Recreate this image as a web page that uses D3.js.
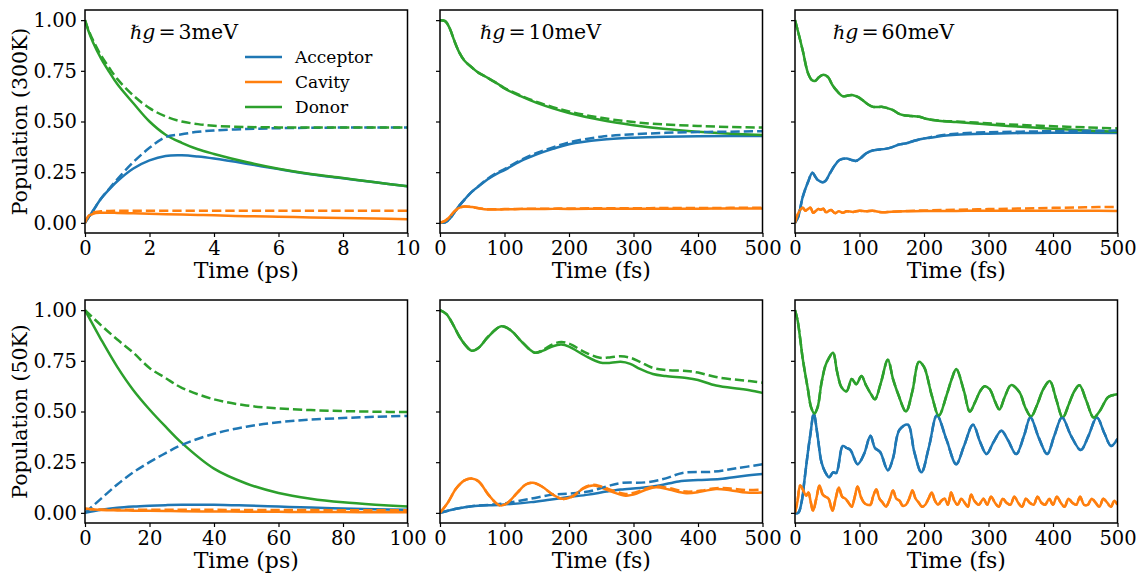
<!DOCTYPE html>
<html><head><meta charset="utf-8">
<script src="https://cdn.jsdelivr.net/npm/d3@7"></script>
<style>
body{margin:0;background:#fff}
svg{display:block}
text{font-family:"DejaVu Serif",serif;fill:#000}
</style>
</head><body>
<svg id="chart" width="1143" height="574"></svg>
<script>
// ---------- shared labels / ticks ----------
const seriesNames = ["Acceptor", "Cavity", "Donor"];
const seriesColors = ["#1f77b4", "#ff7f0e", "#2ca02c"];
const yTicks = [0, 0.25, 0.5, 0.75, 1.0];
const xTicksPs10 = [0, 2, 4, 6, 8, 10];
const xTicksPs100 = [0, 20, 40, 60, 80, 100];
const xTicksFs = [0, 100, 200, 300, 400, 500];
const couplings = ["3meV", "10meV", "60meV"];
const rowLabels = ["Population (300K)", "Population (50K)"];

// ---------- panel 1: 300K, 3 meV (ps) ----------
const p1_t = [0,0.1,0.25,0.5,0.75,1,1.5,2,2.5,3,3.5,4,5,6,7,8,9,10];
const p1_acc   = [0,0.025,0.06,0.12,0.165,0.205,0.268,0.308,0.33,0.333,0.327,0.317,0.292,0.265,0.24,0.22,0.2,0.181];
const p1_acc_d = [0,0.025,0.06,0.12,0.168,0.215,0.3,0.37,0.423,0.437,0.449,0.456,0.463,0.467,0.469,0.47,0.47,0.47];
const p1_cav   = [0,0.03,0.045,0.05,0.05,0.049,0.047,0.045,0.043,0.041,0.039,0.037,0.033,0.03,0.027,0.024,0.021,0.018];
const p1_cav_d = [0,0.032,0.05,0.057,0.059,0.06,0.06,0.06,0.06,0.06,0.06,0.06,0.06,0.06,0.06,0.06,0.06,0.06];
const p1_don   = [1.0,0.95,0.89,0.81,0.745,0.685,0.59,0.5,0.435,0.395,0.363,0.34,0.3,0.267,0.241,0.221,0.2,0.181];
const p1_don_d = [1.0,0.955,0.9,0.825,0.765,0.71,0.628,0.566,0.525,0.5,0.487,0.479,0.473,0.471,0.47,0.47,0.47,0.47];

// ---------- panel 2: 300K, 10 meV (fs) ----------
const p2_t = [0,8,15,22,30,38,50,60,74,90,100,125,150,175,200,250,300,350,400,450,500];
const p2_acc   = [0,0.003,0.02,0.05,0.085,0.115,0.155,0.18,0.215,0.245,0.26,0.305,0.338,0.365,0.388,0.41,0.42,0.425,0.427,0.428,0.428];
const p2_acc_d = [0,0.003,0.02,0.05,0.085,0.115,0.155,0.182,0.218,0.25,0.265,0.31,0.345,0.372,0.397,0.425,0.437,0.444,0.448,0.45,0.452];
const p2_cav   = [0,0.01,0.03,0.055,0.075,0.081,0.078,0.072,0.066,0.066,0.067,0.068,0.068,0.069,0.069,0.07,0.07,0.07,0.07,0.071,0.071];
const p2_cav_d = [0,0.01,0.03,0.055,0.075,0.081,0.078,0.072,0.067,0.067,0.068,0.069,0.07,0.07,0.071,0.072,0.072,0.073,0.073,0.074,0.074];
const p2_don   = [1.0,0.995,0.96,0.9,0.84,0.8,0.765,0.74,0.715,0.685,0.663,0.625,0.592,0.565,0.542,0.507,0.482,0.463,0.45,0.44,0.433];
const p2_don_d = [1.0,0.995,0.96,0.9,0.84,0.8,0.765,0.74,0.715,0.685,0.665,0.628,0.597,0.571,0.549,0.518,0.497,0.485,0.478,0.473,0.47];

// ---------- panel 3: 300K, 60 meV (fs) ----------
const p3_acc_t = [0,5,12,20,27,32,36,43,48,54,62,69,80,88,95,102,110,120,131,140,152,160,172,185,198,210,230,250,300,350,400,500];
const p3_acc   = [0,0.03,0.128,0.2,0.247,0.225,0.21,0.2,0.21,0.244,0.285,0.31,0.318,0.31,0.306,0.32,0.342,0.357,0.362,0.365,0.375,0.385,0.392,0.405,0.415,0.42,0.43,0.435,0.44,0.443,0.445,0.443];
const p3_acc_d = [0,0.03,0.128,0.2,0.247,0.225,0.21,0.2,0.21,0.244,0.285,0.31,0.318,0.31,0.306,0.32,0.342,0.357,0.362,0.365,0.375,0.385,0.392,0.405,0.415,0.423,0.433,0.44,0.447,0.45,0.452,0.455];
const p3_cav_t = [0,4,8,12,16,20,24,28,32,36,40,44,48,52,56,62,68,74,80,90,100,110,120,135,150,175,200,250,300,350,400,450,500];
const p3_cav   = [0,0.04,0.065,0.075,0.06,0.068,0.075,0.05,0.058,0.068,0.065,0.07,0.052,0.058,0.064,0.048,0.057,0.05,0.057,0.054,0.06,0.057,0.06,0.052,0.055,0.057,0.058,0.059,0.06,0.06,0.06,0.06,0.059];
const p3_cav_d = [0,0.04,0.065,0.075,0.06,0.068,0.075,0.05,0.058,0.068,0.065,0.07,0.052,0.058,0.064,0.048,0.057,0.05,0.057,0.054,0.06,0.057,0.06,0.052,0.055,0.059,0.061,0.065,0.068,0.071,0.074,0.077,0.079];
const p3_don_t = [0,5,12,20,26,31,37,43,51,58,64,74,82,90,98,105,113,121,136,144,152,160,167,180,193,205,214,230,250,286,330,390,450,500];
const p3_don   = [1.0,0.94,0.85,0.74,0.705,0.7,0.718,0.73,0.72,0.68,0.655,0.625,0.628,0.63,0.62,0.605,0.585,0.572,0.572,0.565,0.556,0.54,0.532,0.527,0.523,0.512,0.507,0.501,0.497,0.489,0.478,0.466,0.456,0.449];
const p3_don_d = [1.0,0.94,0.85,0.74,0.705,0.7,0.718,0.73,0.72,0.68,0.655,0.625,0.628,0.63,0.62,0.605,0.585,0.572,0.572,0.565,0.556,0.54,0.532,0.527,0.523,0.512,0.507,0.503,0.5,0.494,0.486,0.478,0.471,0.466];

// ---------- panel 4: 50K, 3 meV (ps) ----------
const p4_t = [0,5,10,15,20,25,30,40,50,60,70,80,90,100];
const p4_acc   = [0,0.015,0.025,0.031,0.035,0.038,0.04,0.04,0.036,0.031,0.026,0.022,0.018,0.015];
const p4_acc_d = [0,0.07,0.14,0.2,0.25,0.295,0.335,0.39,0.425,0.447,0.46,0.468,0.474,0.478];
const p4_cav   = [0.02,0.014,0.012,0.011,0.01,0.009,0.008,0.007,0.006,0.005,0.004,0.004,0.003,0.003];
const p4_cav_d = [0.02,0.016,0.015,0.015,0.015,0.015,0.015,0.015,0.014,0.014,0.014,0.013,0.013,0.013];
const p4_don   = [1.0,0.855,0.72,0.605,0.51,0.425,0.345,0.218,0.145,0.098,0.07,0.052,0.04,0.031];
const p4_don_d = [1.0,0.925,0.855,0.79,0.715,0.665,0.617,0.56,0.53,0.515,0.507,0.502,0.499,0.497];

// ---------- panel 5: 50K, 10 meV (fs) ----------
const p5_acc_t   = [0,25,49,95,141,170,200,230,258,280,310,340,370,400,434,470,500];
const p5_acc     = [0,0.02,0.033,0.04,0.053,0.065,0.078,0.09,0.105,0.115,0.123,0.135,0.155,0.162,0.167,0.182,0.192];
const p5_acc_d_t = [0,25,49,95,141,175,200,230,258,280,320,350,376,423,460,500];
const p5_acc_d   = [0,0.02,0.033,0.045,0.07,0.09,0.095,0.105,0.13,0.147,0.151,0.17,0.197,0.203,0.22,0.24];
const p5_cav_t = [0,12,25,38,49,60,75,88,95,105,120,133,144,158,175,190,205,222,237,250,270,288,305,320,335,355,382,405,428,450,475,500];
const p5_cav   = [0,0.05,0.12,0.16,0.17,0.155,0.09,0.045,0.036,0.05,0.1,0.14,0.148,0.13,0.09,0.069,0.08,0.12,0.135,0.125,0.1,0.085,0.095,0.115,0.126,0.115,0.097,0.105,0.118,0.112,0.1,0.1];
const p5_cav_d = [0,0.05,0.12,0.16,0.17,0.155,0.09,0.045,0.036,0.05,0.1,0.14,0.148,0.13,0.09,0.069,0.08,0.122,0.138,0.13,0.108,0.093,0.103,0.12,0.13,0.122,0.105,0.11,0.122,0.12,0.113,0.115];
const p5_don_t = [0,10,20,30,40,49,60,75,95,110,125,147,160,175,188,200,225,248,265,280,295,310,330,350,382,400,428,464,480,500];
const p5_don   = [1.0,0.98,0.93,0.87,0.825,0.8,0.815,0.87,0.92,0.9,0.85,0.79,0.8,0.822,0.83,0.82,0.775,0.742,0.74,0.745,0.735,0.71,0.685,0.675,0.665,0.655,0.628,0.612,0.605,0.592];
const p5_don_d = [1.0,0.98,0.93,0.87,0.825,0.8,0.815,0.87,0.92,0.9,0.85,0.79,0.805,0.832,0.843,0.835,0.792,0.765,0.768,0.772,0.765,0.745,0.715,0.705,0.7,0.692,0.67,0.655,0.65,0.642];

// ---------- panel 6: 50K, 60 meV (fs) ----------
const p6_acc_t = [0,5,10,15,20,24,29,35,41,47,53,59,64,74,80,86,97,107,117,124,132,144,152,162,175,185,196,208,220,235,250,262,276,287,297,308,320,330,343,355,365,378,391,402,414,428,443,455,468,480,490,500];
const p6_acc   = [0,0,0.05,0.17,0.3,0.39,0.49,0.38,0.25,0.2,0.175,0.2,0.197,0.33,0.32,0.31,0.24,0.29,0.38,0.32,0.3,0.21,0.27,0.41,0.435,0.3,0.2,0.33,0.48,0.36,0.24,0.33,0.435,0.35,0.29,0.35,0.405,0.36,0.29,0.38,0.47,0.37,0.29,0.38,0.47,0.38,0.31,0.38,0.47,0.39,0.33,0.365];
const p6_cav_t = [0,4,8,13,17,21,24,28,33,38,43,47,52,58,63,68,73,78,83,88,92,97,102,107,112,117,121,126,131,136,141,146,152,157,162,167,172,177,182,187,192,197,202,207,212,217,222,227,232,237,242,247,252,258,263,268,273,278,285,292,298,304,310,316,322,328,334,340,346,352,358,364,370,376,382,388,394,400,406,412,418,424,430,436,442,448,454,460,466,472,478,484,490,495,500];
const p6_cav   = [0,0.06,0.135,0.11,0.085,0.1,0.06,0.01,0.07,0.135,0.09,0.08,0.07,0.01,0.07,0.125,0.08,0.07,0.05,0.03,0.07,0.13,0.08,0.05,0.04,0.04,0.08,0.115,0.07,0.05,0.03,0.06,0.11,0.07,0.06,0.035,0.04,0.07,0.11,0.07,0.05,0.03,0.04,0.07,0.1,0.06,0.04,0.06,0.07,0.04,0.1,0.06,0.04,0.07,0.05,0.03,0.09,0.06,0.04,0.07,0.04,0.08,0.05,0.03,0.07,0.05,0.04,0.08,0.05,0.03,0.07,0.05,0.04,0.08,0.05,0.04,0.07,0.04,0.08,0.05,0.03,0.07,0.05,0.04,0.08,0.04,0.04,0.07,0.05,0.03,0.07,0.05,0.03,0.06,0.04];
const p6_don_t = [0,4,8,12,20,25,30,35,41,47,52,59,65,72,80,88,95,103,110,118,124,133,144,152,160,172,182,192,200,212,223,235,243,250,262,271,279,287,294,302,310,317,325,335,348,357,366,375,385,395,405,415,425,433,441,452,463,472,485,492,500];
const p6_don   = [1.0,0.95,0.86,0.76,0.61,0.52,0.49,0.52,0.64,0.725,0.76,0.79,0.7,0.62,0.6,0.66,0.635,0.675,0.63,0.585,0.56,0.64,0.755,0.66,0.585,0.5,0.6,0.745,0.72,0.58,0.48,0.58,0.66,0.71,0.6,0.5,0.545,0.6,0.625,0.61,0.55,0.51,0.57,0.63,0.595,0.52,0.475,0.53,0.61,0.65,0.56,0.47,0.54,0.6,0.63,0.55,0.47,0.5,0.57,0.58,0.585];

// ---------- layout ----------
const colLeft = [85, 440, 795];
const rowTop = [10, 300];
const plotW = 322.5, plotH = 223;

const svg = d3.select("#chart");

function series(t, v) { return t.map((x, i) => [x, v[i]]); }

const panels = [
  { r:0, c:0, xDom:[0,10], xTicks:xTicksPs10, xLabel:"Time (ps)",
    solid:[series(p1_t,p1_acc), series(p1_t,p1_cav), series(p1_t,p1_don)],
    dashed:[series(p1_t,p1_acc_d), series(p1_t,p1_cav_d), series(p1_t,p1_don_d)] },
  { r:0, c:1, xDom:[0,500], xTicks:xTicksFs, xLabel:"Time (fs)",
    solid:[series(p2_t,p2_acc), series(p2_t,p2_cav), series(p2_t,p2_don)],
    dashed:[series(p2_t,p2_acc_d), series(p2_t,p2_cav_d), series(p2_t,p2_don_d)] },
  { r:0, c:2, xDom:[0,500], xTicks:xTicksFs, xLabel:"Time (fs)",
    solid:[series(p3_acc_t,p3_acc), series(p3_cav_t,p3_cav), series(p3_don_t,p3_don)],
    dashed:[series(p3_acc_t,p3_acc_d), series(p3_cav_t,p3_cav_d), series(p3_don_t,p3_don_d)] },
  { r:1, c:0, xDom:[0,100], xTicks:xTicksPs100, xLabel:"Time (ps)",
    solid:[series(p4_t,p4_acc), series(p4_t,p4_cav), series(p4_t,p4_don)],
    dashed:[series(p4_t,p4_acc_d), series(p4_t,p4_cav_d), series(p4_t,p4_don_d)] },
  { r:1, c:1, xDom:[0,500], xTicks:xTicksFs, xLabel:"Time (fs)",
    solid:[series(p5_acc_t,p5_acc), series(p5_cav_t,p5_cav), series(p5_don_t,p5_don)],
    dashed:[series(p5_acc_d_t,p5_acc_d), series(p5_cav_t,p5_cav_d), series(p5_don_t,p5_don_d)] },
  { r:1, c:2, xDom:[0,500], xTicks:xTicksFs, xLabel:"Time (fs)",
    solid:[series(p6_acc_t,p6_acc), series(p6_cav_t,p6_cav), series(p6_don_t,p6_don)],
    dashed:[series(p6_acc_t,p6_acc), series(p6_cav_t,p6_cav), series(p6_don_t,p6_don)] }
];

panels.forEach((p, idx) => {
  const x0 = colLeft[p.c], y0 = rowTop[p.r];
  const g = svg.append("g").attr("transform", `translate(${x0},${y0})`);
  const x = d3.scaleLinear().domain(p.xDom).range([0, plotW]);
  const y = d3.scaleLinear().domain([-0.05, 1.05]).range([plotH, 0]);

  const clipId = "clip" + idx;
  g.append("clipPath").attr("id", clipId).append("rect")
    .attr("width", plotW).attr("height", plotH);

  const line = d3.line().x(d => x(d[0])).y(d => y(d[1])).curve(d3.curveCatmullRom.alpha(0.5));
  const lg = g.append("g").attr("clip-path", `url(#${clipId})`);
  p.solid.forEach((s, i) => {
    lg.append("path").attr("d", line(s)).attr("fill", "none")
      .attr("stroke", seriesColors[i]).attr("stroke-width", 2.5).attr("stroke-linejoin", "round");
  });
  p.dashed.forEach((s, i) => {
    lg.append("path").attr("d", line(s)).attr("fill", "none")
      .attr("stroke", seriesColors[i]).attr("stroke-width", 2.5)
      .attr("stroke-dasharray", "9.25,4");
  });

  // axes
  const xAxis = d3.axisBottom(x).tickValues(p.xTicks).tickSize(4).tickPadding(4)
    .tickFormat(d3.format("d"));
  const gx = g.append("g").attr("transform", `translate(0,${plotH})`).call(xAxis);
  gx.select(".domain").remove();
  gx.selectAll("line").attr("stroke", "#000").attr("stroke-width", 1.2);
  gx.selectAll("text").attr("font-size", 19.5).attr("font-family", "DejaVu Serif").attr("fill", "#000")
    .attr("dy", "0.71em");

  const yAxis = d3.axisLeft(y).tickValues(yTicks).tickSize(4).tickPadding(4)
    .tickFormat(p.c === 0 ? d3.format(".2f") : () => "");
  const gy = g.append("g").call(yAxis);
  gy.select(".domain").remove();
  gy.selectAll("line").attr("stroke", "#000").attr("stroke-width", 1.2);
  gy.selectAll("text").attr("font-size", 19.5).attr("font-family", "DejaVu Serif").attr("fill", "#000");

  g.append("rect").attr("width", plotW).attr("height", plotH)
    .attr("fill", "none").attr("stroke", "#000").attr("stroke-width", 1.5);

  g.append("text").attr("x", plotW / 2).attr("y", plotH + 45)
    .attr("text-anchor", "middle").attr("font-size", 22).text(p.xLabel);

  if (p.c === 0) {
    svg.append("text")
      .attr("transform", `translate(20,${y0 + plotH / 2}) rotate(-90)`)
      .attr("text-anchor", "middle").attr("dominant-baseline", "central")
      .attr("font-size", 20.5).text(rowLabels[p.r]);
  }

  if (p.r === 0) {
    const annX = [45, 40, 38][p.c];
    const t = g.append("text").attr("x", annX).attr("y", 29).attr("font-size", 20.5)
      .attr("font-family", "'Liberation Serif', serif");
    t.append("tspan").attr("font-family", "'DejaVu Serif', serif").attr("font-size", 19).text("ℏ");
    t.append("tspan").attr("font-style", "italic").text("g");
    t.append("tspan").attr("dx", 3).text("=");
    t.append("tspan").attr("dx", 3).text(couplings[p.c]);
  }

  if (idx === 0) {
    const leg = g.append("g");
    seriesNames.forEach((n, i) => {
      const ly = 47 + i * 25;
      leg.append("line").attr("x1", 160).attr("x2", 197).attr("y1", ly).attr("y2", ly)
        .attr("stroke", seriesColors[i]).attr("stroke-width", 2.5);
      leg.append("text").attr("x", 210).attr("y", ly).attr("dominant-baseline", "central")
        .attr("font-size", 17).text(n);
    });
  }
});
</script>
</body></html>
